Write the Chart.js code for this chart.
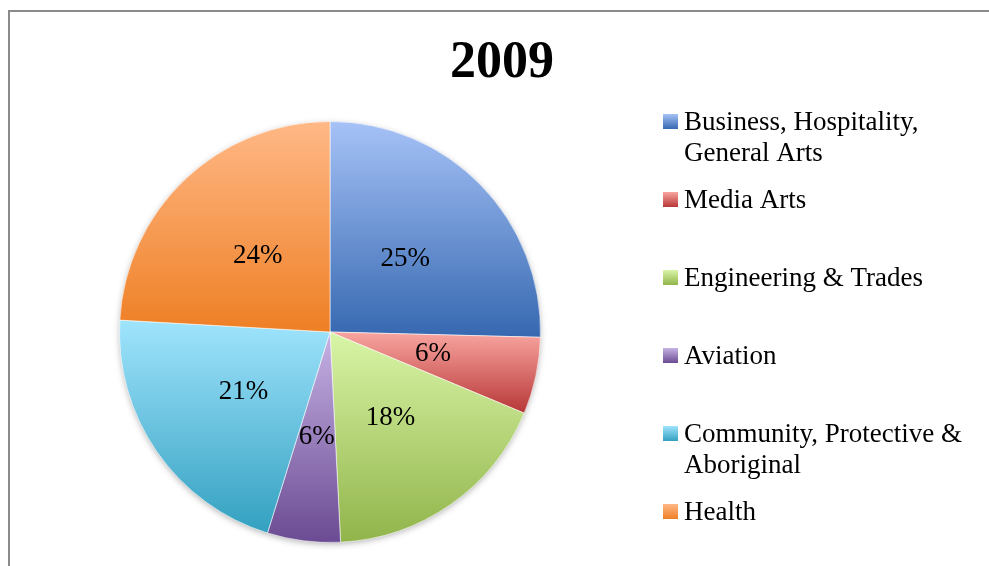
<!DOCTYPE html>
<html>
<head>
<meta charset="utf-8">
<script src="https://cdn.jsdelivr.net/npm/chart.js@4/dist/chart.umd.min.js"></script>
<style>
  html, body { margin: 0; padding: 0; background: #fff; }
  canvas { display: block; }
</style>
</head>
<body>
<canvas id="pie" width="989" height="566"></canvas>
<script>
const TITLE = '2009'
const CATEGORIES = [
  'Business, Hospitality, General Arts',
  'Media Arts',
  'Engineering & Trades',
  'Aviation',
  'Community, Protective & Aboriginal',
  'Health',
]
const SHARES = [25.4, 5.9, 17.9, 5.6, 21.1, 24.1]

// light (top) and dark (bottom) end of each slice gradient
const TOP_COLORS = ['#a6c2f7', '#f9a5a0', '#d9f5a7', '#c6b2e4', '#a0e4fd', '#ffb886']
const BOTTOM_COLORS = ['#3668b0', '#b73737', '#91b44a', '#6b4b93', '#33a0c0', '#ee7f25']

const FONT = '"Liberation Serif", "Times New Roman", serif'

const gradientFor = (ctx, top, bottom, i) => {
  const g = ctx.createLinearGradient(0, top, 0, bottom)
  g.addColorStop(0, TOP_COLORS[i])
  g.addColorStop(1, BOTTOM_COLORS[i])
  return g
}

const sliceGradient = (ctx, arc, i) => {
  const { x, y, startAngle, endAngle, outerRadius } = arc
  const ys = [y, y + Math.sin(startAngle) * outerRadius, y + Math.sin(endAngle) * outerRadius]
  for (const a of [-Math.PI / 2, Math.PI / 2, 1.5 * Math.PI]) {
    if (a > startAngle && a < endAngle) ys.push(y + Math.sin(a) * outerRadius)
  }
  return gradientFor(ctx, Math.min(...ys), Math.max(...ys), i)
}

const wrapText = (ctx, text, maxWidth) => {
  const lines = []
  let line = ''
  for (const word of text.split(' ')) {
    const test = line ? line + ' ' + word : word
    if (line && ctx.measureText(test).width > maxWidth) {
      lines.push(line)
      line = word
    } else {
      line = test
    }
  }
  lines.push(line)
  return lines
}

const decorPlugin = {
  id: 'decor',
  beforeDraw(chart) {
    const { ctx } = chart
    ctx.save()
    ctx.strokeStyle = '#8a8a8a'
    ctx.lineWidth = 2
    ctx.beginPath()
    ctx.moveTo(9, chart.height + 2)
    ctx.lineTo(9, 11)
    ctx.lineTo(chart.width + 2, 11)
    ctx.stroke()

    ctx.fillStyle = '#000'
    ctx.font = `bold 52px ${FONT}`
    ctx.textAlign = 'center'
    ctx.textBaseline = 'alphabetic'
    ctx.fillText(TITLE, 502, 77)
    ctx.restore()
  },
  beforeDatasetsDraw(chart) {
    const { ctx } = chart
    const arcs = chart.getDatasetMeta(0).data
    if (!arcs.length) return
    const { x, y, outerRadius } = arcs[0]
    ctx.save()
    ctx.shadowColor = 'rgba(0, 0, 0, 0.35)'
    ctx.shadowBlur = 7
    ctx.shadowOffsetY = 2
    ctx.fillStyle = '#fff'
    ctx.beginPath()
    ctx.arc(x, y, outerRadius - 1, 0, Math.PI * 2)
    ctx.fill()
    ctx.restore()
    arcs.forEach((arc, i) => {
      arc.options.backgroundColor = sliceGradient(ctx, arc, i)
    })
  },
  afterDatasetsDraw(chart) {
    const { ctx } = chart
    const total = SHARES.reduce((a, b) => a + b, 0)
    ctx.save()
    ctx.fillStyle = '#000'
    ctx.font = `27px ${FONT}`
    ctx.textAlign = 'center'
    ctx.textBaseline = 'middle'
    chart.getDatasetMeta(0).data.forEach((arc, i) => {
      const pos = arc.tooltipPosition()
      ctx.fillText(Math.round((SHARES[i] / total) * 100) + '%', pos.x, pos.y)
    })
    ctx.restore()
  },
  afterDraw(chart) {
    const { ctx } = chart
    const boxX = 663
    const box = 15
    const textX = 684
    ctx.save()
    ctx.font = `27px ${FONT}`
    ctx.textAlign = 'left'
    ctx.textBaseline = 'alphabetic'
    CATEGORIES.forEach((name, i) => {
      const cy = 121.5 + i * 78
      ctx.fillStyle = gradientFor(ctx, cy - box / 2, cy + box / 2, i)
      ctx.fillRect(boxX, cy - box / 2, box, box)
      ctx.fillStyle = '#000'
      wrapText(ctx, name, 290).forEach((line, j) => {
        ctx.fillText(line, textX, cy + 8.5 + j * 31)
      })
    })
    ctx.restore()
  },
}

new Chart(document.getElementById('pie'), {
  type: 'pie',
  data: {
    labels: CATEGORIES,
    datasets: [
      {
        data: SHARES,
        backgroundColor: (c) => TOP_COLORS[c.dataIndex],
        borderWidth: 1,
        borderColor: 'rgba(255, 255, 255, 0.55)',
      },
    ],
  },
  options: {
    responsive: false,
    animation: false,
    layout: {
      padding: { left: 119, top: 121, right: 448, bottom: 23 },
    },
    plugins: {
      legend: { display: false },
      title: { display: false },
      tooltip: { enabled: false },
    },
  },
  plugins: [decorPlugin],
})
</script>
</body>
</html>
